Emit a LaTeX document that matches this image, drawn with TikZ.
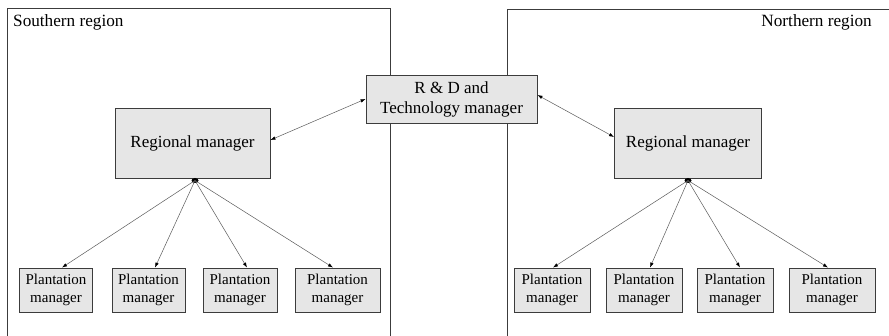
\documentclass[tikz,border=0pt]{standalone}
\usepackage{fontspec}
\setmainfont{Liberation Serif}
\usetikzlibrary{arrows.meta,calc}
\definecolor{boxfill}{HTML}{E6E6E6}
\definecolor{boxline}{HTML}{3C3C3C}
\definecolor{arrline}{HTML}{5A5A5A}
\begin{document}
\begin{tikzpicture}[x=1pt,y=-1pt,
  mgr/.style={draw=boxline,fill=boxfill,line width=0.9pt,inner sep=0pt,align=center},
  plant/.style={mgr,minimum height=44pt,font=\fontsize{15}{18.5}\selectfont},
  region/.style={draw=boxline,line width=0.9pt},
  link/.style={draw=arrline,line width=0.5pt,-{Latex[length=5pt,width=3.5pt,color=black]}},
  dlink/.style={draw=arrline,line width=0.5pt,{Latex[length=5pt,width=3.5pt,color=black]}-{Latex[length=5pt,width=3.5pt,color=black]}},
  lbl/.style={font=\fontsize{17.2}{18}\selectfont,inner sep=0pt}]
\useasboundingbox (0,0) rectangle (889,336);
\begin{scope}
\clip (0,0) rectangle (889,336);
\draw[region] (7,340) -- (7,8) -- (390,8) -- (390,340);
\draw[region] (507,340) -- (507,9) -- (895,9);
\end{scope}
\node[lbl,anchor=base west] (sreg) at (13,27) {Southern region};
\node[lbl,anchor=base east] (nreg) at (872,27) {Northern region};

\node[mgr,minimum width=171pt,minimum height=48pt,font=\fontsize{17}{20}\selectfont] (rd) at (451.5,99) {R \& D and\\Technology manager};
\node[mgr,minimum width=155pt,minimum height=70pt,font=\fontsize{17}{18}\selectfont] (rs) at (192.5,143) {Regional manager};
\node[mgr,minimum width=147pt,minimum height=70pt,font=\fontsize{17}{18}\selectfont] (rn) at (688,143) {Regional manager};

\node[plant,minimum width=73pt] (s1) at (56,290) {Plantation\\manager};
\node[plant,minimum width=73pt] (s2) at (148.5,290) {Plantation\\manager};
\node[plant,minimum width=74pt] (s3) at (240,290) {Plantation\\manager};
\node[plant,minimum width=85pt] (s4) at (337.5,290) {Plantation\\manager};

\node[plant,minimum width=76pt] (n1) at (552,290) {Plantation\\manager};
\node[plant,minimum width=76pt] (n2) at (644,290) {Plantation\\manager};
\node[plant,minimum width=76pt] (n3) at (735,290) {Plantation\\manager};
\node[plant,minimum width=86pt] (n4) at (832,290) {Plantation\\manager};

\coordinate (sj) at (195,180.5);
\coordinate (nj) at (688,180.5);
\fill (sj) ellipse (3.5pt and 2.5pt);
\fill (nj) ellipse (3.5pt and 2.5pt);

\draw[link] (sj) -- (s1.north -| 62,0);
\draw[link] (sj) -- (s2.north -| 155,0);
\draw[link] (sj) -- (s3.north -| 247,0);
\draw[link] (sj) -- (s4.north -| 333,0);
\draw[link] (nj) -- (n1.north -| 553,0);
\draw[link] (nj) -- (n2.north -| 650,0);
\draw[link] (nj) -- (n3.north -| 740,0);
\draw[link] (nj) -- (n4.north -| 828,0);

\draw[dlink] ([yshift=3pt]rs.east) -- ([yshift=0pt]rd.west);
\draw[dlink] ([yshift=4pt]rd.east) -- ([yshift=6pt]rn.west);
\end{tikzpicture}
\end{document}
